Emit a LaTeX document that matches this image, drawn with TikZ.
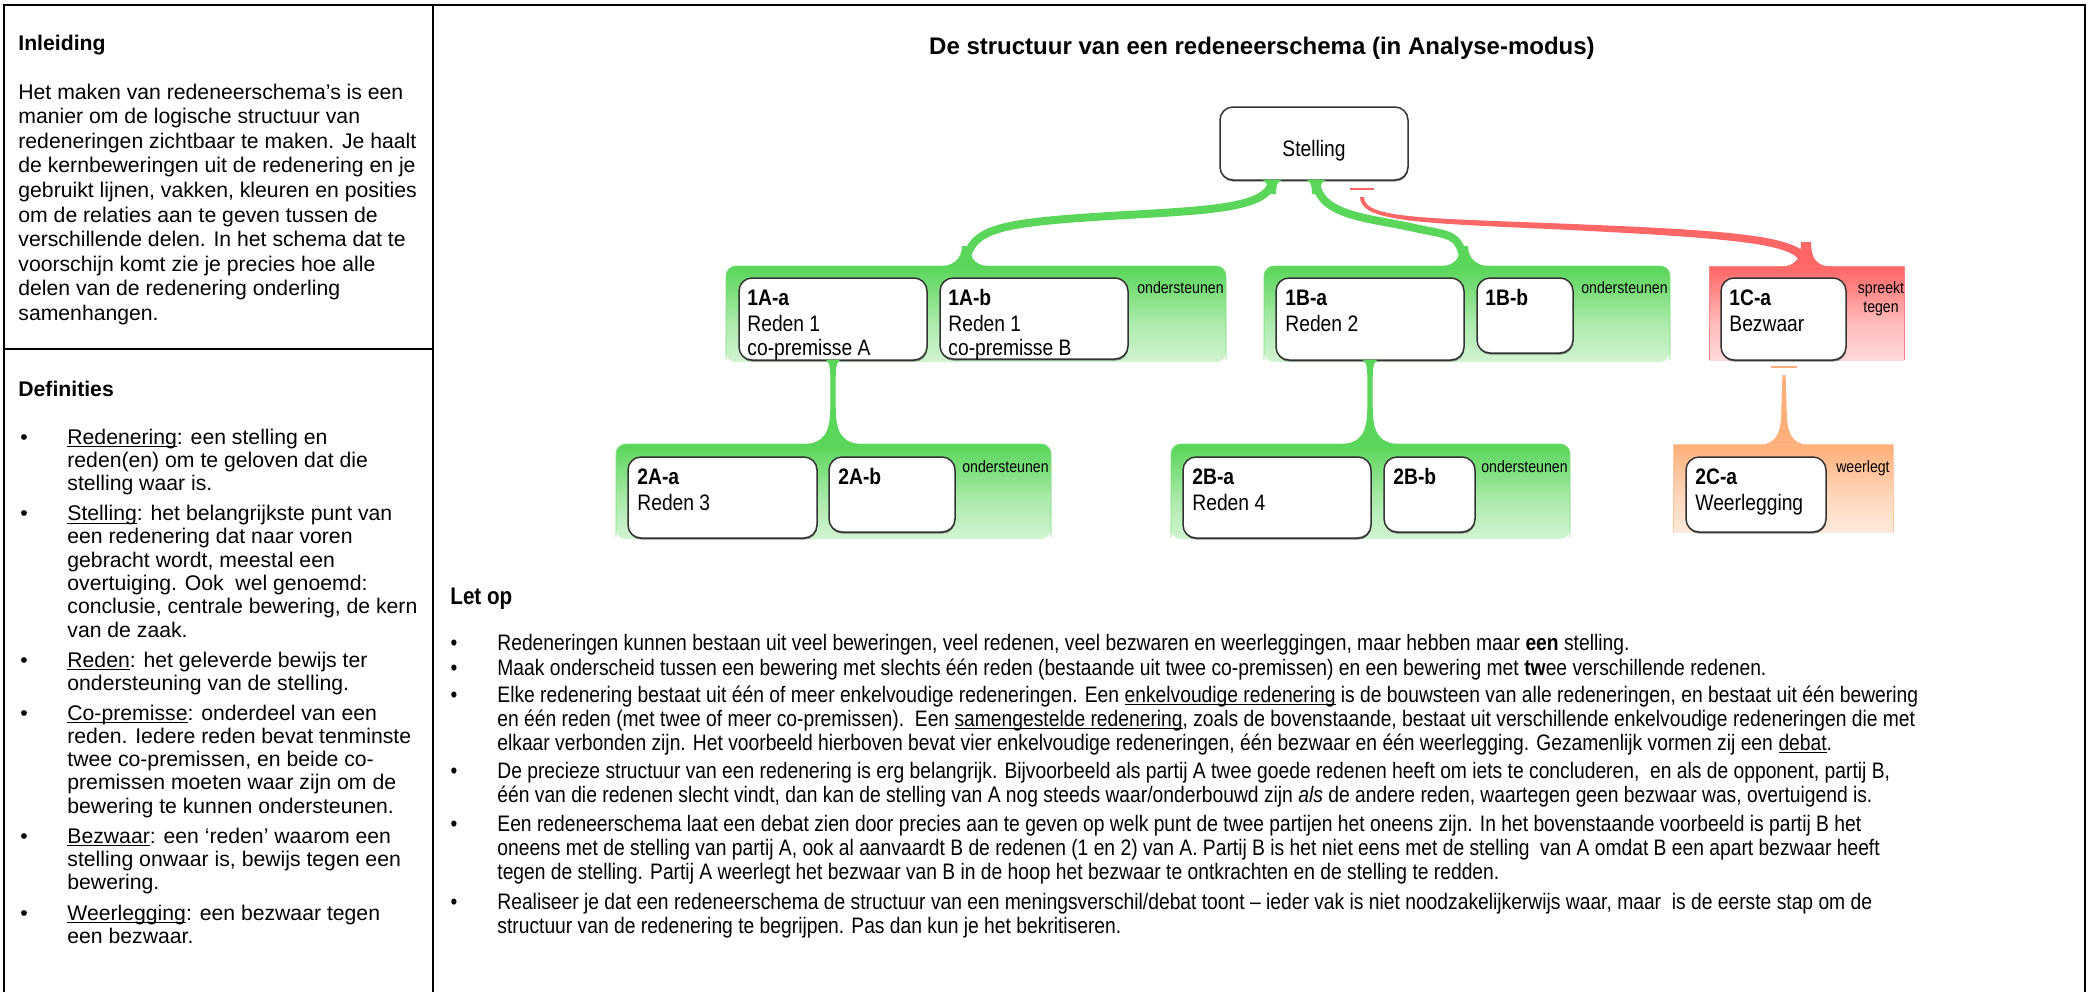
\documentclass[tikz,border=0pt]{standalone}
\usepackage{fontspec}
\setmainfont{Liberation Sans}
\newfontfamily\nar[FakeStretch=0.86]{Liberation Sans}
\usetikzlibrary{fit,calc,shadows}
\definecolor{grn}{RGB}{90,214,90}
\definecolor{rd}{RGB}{255,102,102}
\definecolor{org}{RGB}{255,176,122}
\pgfdeclareverticalshading{grnfade}{100bp}{color(0bp)=(white); color(6bp)=(white!94!grn); color(45bp)=(white!50!grn); color(74bp)=(grn); color(100bp)=(grn)}
\pgfdeclareverticalshading{rdfade}{100bp}{color(0bp)=(white); color(6bp)=(white!94!rd); color(45bp)=(white!55!rd); color(74bp)=(rd); color(100bp)=(rd)}
\pgfdeclareverticalshading{orgfade}{100bp}{color(0bp)=(white); color(6bp)=(white!94!org); color(45bp)=(white!50!org); color(74bp)=(org); color(100bp)=(org)}
\newcommand\ulin[1]{\leavevmode\setbox0\hbox{#1}\rlap{\rule[-1.7pt]{\wd0}{0.5pt}}\box0\relax}
\begin{document}
\begin{tikzpicture}[x=0.5pt,y=-0.5pt,
  cbox/.style={draw=black!80, line width=0.75pt, fill=white, rounded corners=6.5pt, inner sep=0pt, outer sep=0pt,
    drop shadow={shadow xshift=0.2pt, shadow yshift=-0.8pt, opacity=0.45, fill=black}},
  lbl/.style={anchor=base west, inner sep=0pt, font=\nar\fontsize{11.2pt}{13pt}\selectfont},
  idl/.style={lbl, font=\nar\bfseries\fontsize{11.2pt}{13pt}\selectfont},
  rel/.style={inner sep=0pt, font=\nar\fontsize{8.2pt}{9.5pt}\selectfont},
  body/.style={anchor=base west, inner sep=0pt, font=\fontsize{10.6pt}{12.2pt}\selectfont},
  head/.style={anchor=base west, inner sep=0pt, font=\bfseries\fontsize{10.6pt}{12.2pt}\selectfont},
  bul/.style={anchor=base, inner sep=0pt, font=\fontsize{10.6pt}{12pt}\selectfont},
  lo/.style={anchor=base west, inner sep=0pt, font=\nar\fontsize{11.2pt}{12pt}\selectfont},
  lobul/.style={anchor=base, inner sep=0pt, font=\nar\fontsize{11.2pt}{12pt}\selectfont},
  grpline/.style={line width=0.45pt},
  link/.style={line width=4pt},
  flareA/.pic={\fill (-24,0.5) .. controls (-8,0.5) and (0,-8) .. (0,-20) -- (8,-20) .. controls (8,-6) and (14,0.5) .. (32,0.5) -- cycle;},
  flareB/.pic={\fill (-32,0.5) .. controls (-14,0.5) and (-8,-6) .. (-8,-20) -- (0,-20) .. controls (0,-8) and (8,0.5) .. (24,0.5) -- cycle;},
  redflare/.pic={\fill (-26,0.5) .. controls (-10,0.5) and (-5,-8) .. (-5,-24) -- (5,-24) .. controls (5,-8) and (10,0.5) .. (26,0.5) -- cycle;},
  smallflare/.pic={\fill (-13,-0.5) .. controls (-6,-0.5) and (-4,4) .. (-4,14) -- (4,14) .. controls (4,4) and (6,-0.5) .. (13,-0.5) -- cycle;},
  vlink/.pic={\fill (-9,-0.5) .. controls (-4,-0.5) and (-2.7,6) .. (-2.7,18) -- (-2.7,46) .. controls (-2.7,72) and (-8,83) .. (-30,84.5) -- (30,84.5) .. controls (8,83) and (2.7,72) .. (2.7,46) -- (2.7,18) .. controls (2.7,6) and (4,-0.5) .. (9,-0.5) -- cycle;},
  olink/.pic={\fill (-24,0.5) .. controls (-7,0) and (-2.7,-12) .. (-2.7,-35) -- (-1.6,-69) -- (1.6,-69) -- (2.7,-35) .. controls (2.7,-12) and (7,0) .. (24,0.5) -- cycle;}
]
\useasboundingbox (0,0) rectangle (2089,992);
\fill[white] (0,0) rectangle (2089,992);

% frame
\draw[line width=0.9pt] (4,992) -- (4,5) -- (2085,5) -- (2085,992);
\draw[line width=0.8pt] (433,5) -- (433,992);
\draw[line width=0.9pt] (4,349) -- (433,349);

% left column
\node[head] (inl) at (18,50) {Inleiding};
\node[body] (intro) at (18,99) {\parbox[t]{215pt}{\raggedright\fontsize{10.6pt}{12.3pt}\selectfont
Het maken van redeneerschema’s is een\\
manier om de logische structuur van\\
redeneringen zichtbaar te maken. Je haalt\\
de kernbeweringen uit de redenering en je\\
gebruikt lijnen, vakken, kleuren en posities\\
om de relaties aan te geven tussen de\\
verschillende delen. In het schema dat te\\
voorschijn komt zie je precies hoe alle\\
delen van de redenering onderling\\
samenhangen.}};

\node[head] (defs) at (18,396) {Definities};
\node[bul] (db1) at (24,444) {•};
\node[body] (dt1) at (67,444) {\parbox[t]{200pt}{\raggedright\fontsize{10.6pt}{11.65pt}\selectfont
\ulin{Redenering}: een stelling en\\reden(en) om te geloven dat die\\stelling waar is.}};
\node[bul] (db2) at (24,520.5) {•};
\node[body] (dt2) at (67,520.5) {\parbox[t]{200pt}{\raggedright\fontsize{10.6pt}{11.65pt}\selectfont
\ulin{Stelling}: het belangrijkste punt van\\een redenering dat naar voren\\gebracht wordt, meestal een\\overtuiging. Ook\ \ wel genoemd:\\conclusie, centrale bewering, de kern\\van de zaak.}};
\node[bul] (db3) at (24,667) {•};
\node[body] (dt3) at (67,667) {\parbox[t]{200pt}{\raggedright\fontsize{10.6pt}{11.65pt}\selectfont
\ulin{Reden}: het geleverde bewijs ter\\ondersteuning van de stelling.}};
\node[bul] (db4) at (24,720) {•};
\node[body] (dt4) at (67,720) {\parbox[t]{200pt}{\raggedright\fontsize{10.6pt}{11.65pt}\selectfont
\ulin{Co-premisse}: onderdeel van een\\reden. Iedere reden bevat tenminste\\twee co-premissen, en beide co-\\premissen moeten waar zijn om de\\bewering te kunnen ondersteunen.}};
\node[bul] (db5) at (24,843) {•};
\node[body] (dt5) at (67,843) {\parbox[t]{200pt}{\raggedright\fontsize{10.6pt}{11.65pt}\selectfont
\ulin{Bezwaar}: een ‘reden’ waarom een\\stelling onwaar is, bewijs tegen een\\bewering.}};
\node[bul] (db6) at (24,920) {•};
\node[body] (dt6) at (67,920) {\parbox[t]{200pt}{\raggedright\fontsize{10.6pt}{11.65pt}\selectfont
\ulin{Weerlegging}: een bezwaar tegen\\een bezwaar.}};

% title
\node[anchor=base, inner sep=0pt, font=\bfseries\fontsize{12pt}{14pt}\selectfont] (title) at (1262,54) {De structuur van een redeneerschema (in Analyse-modus)};

% groups
\shade[shading=grnfade, rounded corners=5pt] (726,362) -- (726,266) -- (1226,266) -- (1226,362) -- cycle;
\draw[grn!80, grpline, rounded corners=5pt] (726,360) -- (726,266) -- (1226,266) -- (1226,360);
\shade[shading=grnfade, rounded corners=5pt] (1264,362) -- (1264,266) -- (1670,266) -- (1670,362) -- cycle;
\draw[grn!80, grpline, rounded corners=5pt] (1264,360) -- (1264,266) -- (1670,266) -- (1670,360);
\shade[shading=rdfade] (1709,360) rectangle (1904,266);
\draw[rd!80, grpline] (1709,360) -- (1709,266) -- (1904,266) -- (1904,360);
\shade[shading=grnfade, rounded corners=5pt] (616,539) -- (616,444) -- (1051,444) -- (1051,539) -- cycle;
\draw[grn!80, grpline, rounded corners=5pt] (616,537) -- (616,444) -- (1051,444) -- (1051,537);
\shade[shading=grnfade, rounded corners=5pt] (1171,539) -- (1171,444) -- (1570,444) -- (1570,539) -- cycle;
\draw[grn!80, grpline, rounded corners=5pt] (1171,537) -- (1171,444) -- (1570,444) -- (1570,537);
\shade[shading=orgfade] (1673,532) rectangle (1893,444);
\draw[org!70, grpline] (1673,532) -- (1673,444) -- (1893,444) -- (1893,532);

% boxes
\node[cbox, fit={(1220,107) (1408,180)}] (stelling) {};
\node[cbox, fit={(739,278) (927,360)}] (n1Aa) {};
\node[cbox, fit={(940,278) (1128,359)}] (n1Ab) {};
\node[cbox, fit={(1276,278) (1464,360)}] (n1Ba) {};
\node[cbox, fit={(1477,278) (1573,353)}] (n1Bb) {};
\node[cbox, fit={(1721,278) (1846,360)}] (n1Ca) {};
\node[cbox, fit={(628,457) (817,538)}] (n2Aa) {};
\node[cbox, fit={(829,457) (955,532)}] (n2Ab) {};
\node[cbox, fit={(1183,457) (1371,538)}] (n2Ba) {};
\node[cbox, fit={(1384,457) (1475,532)}] (n2Bb) {};
\node[cbox, fit={(1686,457) (1826,532)}] (n2Ca) {};

% connector end points
\coordinate (s1) at ($(stelling.south)+(-42,0)$);
\coordinate (s2) at ($(stelling.south)+(2,0)$);
\coordinate (s3) at ($(stelling.south)+(48,9)$);
\coordinate (g1a) at (962,266);
\coordinate (g1b) at (1468,266);
\coordinate (g1c) at (1806,266);
\coordinate (o3) at ($(n1Ca.south)+(0.5,7)$);

% green connectors Stelling -> 1A / 1B
\draw[grn, link] (s1) .. controls ($(s1)+(-1,34)$) and (1180,210) .. (1066,219) .. controls (995,225) and ($(g1a)+(10,-34)$) .. ($(g1a)+(4,-6)$);
\draw[grn, link] (s2) .. controls ($(s2)+(1,36)$) and (1370,218) .. (1410,227) .. controls (1450,236) and ($(g1b)+(-10,-34)$) .. ($(g1b)+(-4,-6)$);
\pic[grn] at (s1) {smallflare};
\pic[grn] at (s2) {smallflare};
\pic[grn] at (g1a) {flareA};
\pic[grn] at (g1b) {flareB};

% red connector 1C -> Stelling
\draw[rd, line width=1pt] ($(s3)+(-12,0)$) -- ($(s3)+(12,0)$);
\fill[rd] ($(s3)+(2,8)$) .. controls (1364,218) and (1420,218) .. (1560,223.5) .. controls (1748,231) and ($(g1c)+(5,-30)$) .. ($(g1c)+(5,0)$)
  -- ($(g1c)+(-5,0)$) .. controls ($(g1c)+(-5,-22)$) and (1740,238.5) .. (1560,229.5) .. controls (1420,223) and (1360,222) .. ($(s3)+(-2,8)$) -- cycle;
\pic[rd] at (g1c) {redflare};

% level-2 connectors
\pic[grn] at (n1Aa.south) {vlink};
\pic[grn] at (n1Ba.south) {vlink};
\draw[org, line width=1.3pt] ($(o3)+(-13,0)$) -- ($(o3)+(13,0)$);
\pic[org] at ($(n1Ca.south)+(0.5,84)$) {olink};

% box texts
\node[lbl, anchor=base] (tst) at (1314,156) {Stelling};
\node[idl] (t1Aa) at (747,305) {1A-a};
\node[lbl] (t1Aa2) at (747,331) {Reden 1};
\node[lbl] (t1Aa3) at (747,355) {co-premisse A};
\node[idl] (t1Ab) at (948,305) {1A-b};
\node[lbl] (t1Ab2) at (948,331) {Reden 1};
\node[lbl] (t1Ab3) at (948,355) {co-premisse B};
\node[idl] (t1Ba) at (1285,305) {1B-a};
\node[lbl] (t1Ba2) at (1285,331) {Reden 2};
\node[idl] (t1Bb) at (1485,305) {1B-b};
\node[idl] (t1Ca) at (1729,305) {1C-a};
\node[lbl] (t1Ca2) at (1729,331) {Bezwaar};
\node[idl] (t2Aa) at (637,484) {2A-a};
\node[lbl] (t2Aa2) at (637,510) {Reden 3};
\node[idl] (t2Ab) at (838,484) {2A-b};
\node[idl] (t2Ba) at (1192,484) {2B-a};
\node[lbl] (t2Ba2) at (1192,510) {Reden 4};
\node[idl] (t2Bb) at (1393,484) {2B-b};
\node[idl] (t2Ca) at (1695,484) {2C-a};
\node[lbl] (t2Ca2) at (1695,510) {Weerlegging};

% relation labels
\node[rel, anchor=base east] (r1a) at (1224,293) {ondersteunen};
\node[rel, anchor=base east] (r1b) at (1668,293) {ondersteunen};
\node[rel, anchor=base] (r1c) at (1881,293) {spreekt};
\node[rel, anchor=base] (r1c2) at (1881,312) {tegen};
\node[rel, anchor=base east] (r2a) at (1049,472) {ondersteunen};
\node[rel, anchor=base east] (r2b) at (1568,472) {ondersteunen};
\node[rel, anchor=base east] (r2c) at (1890,472) {weerlegt};

% Let op
\node[anchor=base west, inner sep=0pt, font=\nar\bfseries\fontsize{12pt}{14pt}\selectfont] (letop) at (450,604) {Let op};
\node[lobul] (lb1) at (454,650) {•};
\node[lo] (lt1) at (497,650) {Redeneringen kunnen bestaan uit veel beweringen, veel redenen, veel bezwaren en weerleggingen, maar hebben maar \textbf{een} stelling.};
\node[lobul] (lb2) at (454,675) {•};
\node[lo] (lt2) at (497,675) {Maak onderscheid tussen een bewering met slechts één reden (bestaande uit twee co-premissen) en een bewering met \textbf{tw}ee verschillende redenen.};
\node[lobul] (lb3) at (454,702) {•};
\node[lo] (lt3) at (497,702) {\parbox[t]{820pt}{\raggedright
Elke redenering bestaat uit één of meer enkelvoudige redeneringen. Een \ulin{enkelvoudige redenering} is de bouwsteen van alle redeneringen, en bestaat uit één bewering\\
en één reden (met twee of meer co-premissen).\ \ Een \ulin{samengestelde redenering}, zoals de bovenstaande, bestaat uit verschillende enkelvoudige redeneringen die met\\
elkaar verbonden zijn. Het voorbeeld hierboven bevat vier enkelvoudige redeneringen, één bezwaar en één weerlegging. Gezamenlijk vormen zij een \ulin{debat}.}};
\node[lobul] (lb4) at (454,778) {•};
\node[lo] (lt4) at (497,778) {\parbox[t]{820pt}{\raggedright
De precieze structuur van een redenering is erg belangrijk. Bijvoorbeeld als partij A twee goede redenen heeft om iets te concluderen,\ \ en als de opponent, partij B,\\
één van die redenen slecht vindt, dan kan de stelling van A nog steeds waar/onderbouwd zijn \textit{als} de andere reden, waartegen geen bezwaar was, overtuigend is.}};
\node[lobul] (lb5) at (454,831) {•};
\node[lo] (lt5) at (497,831) {\parbox[t]{820pt}{\raggedright
Een redeneerschema laat een debat zien door precies aan te geven op welk punt de twee partijen het oneens zijn. In het bovenstaande voorbeeld is partij B het\\
oneens met de stelling van partij A, ook al aanvaardt B de redenen (1 en 2) van A. Partij B is het niet eens met de stelling\ \ van A omdat B een apart bezwaar heeft\\
tegen de stelling. Partij A weerlegt het bezwaar van B in de hoop het bezwaar te ontkrachten en de stelling te redden.}};
\node[lobul] (lb6) at (454,909) {•};
\node[lo] (lt6) at (497,909) {\parbox[t]{820pt}{\raggedright
Realiseer je dat een redeneerschema de structuur van een meningsverschil/debat toont – ieder vak is niet noodzakelijkerwijs waar, maar\ \ is de eerste stap om de\\
structuur van de redenering te begrijpen. Pas dan kun je het bekritiseren.}};
\end{tikzpicture}
\end{document}
